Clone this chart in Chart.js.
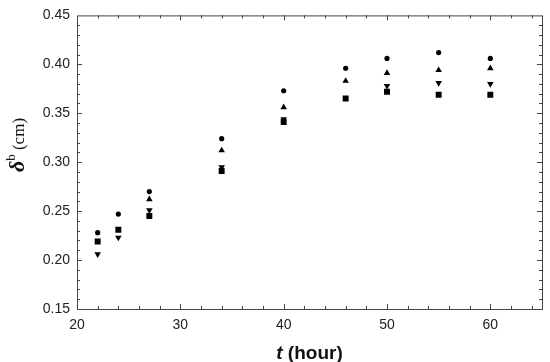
<!DOCTYPE html>
<html>
<head>
<meta charset="utf-8">
<script src="https://cdn.jsdelivr.net/npm/chart.js@4.4.1/dist/chart.umd.min.js"></script>
<style>
  html, body { margin: 0; background: #fff; }
</style>
</head>
<body>
<canvas id="chart" width="550" height="362"></canvas>
<script>
// data
const hours = [22, 24, 27, 34, 40, 46, 50, 55, 60];
const circleVals = [0.228, 0.247, 0.270, 0.324, 0.373, 0.396, 0.406, 0.412, 0.406];
const upVals = [null, null, 0.262, 0.312, 0.356, 0.383, 0.391, 0.394, 0.396];
const downVals = [0.206, 0.223, 0.251, 0.295, 0.344, null, 0.378, 0.381, 0.380];
const squareVals = [0.219, 0.231, 0.245, 0.291, 0.341, 0.365, 0.372, 0.369, 0.369];
const xTicks = [20, 30, 40, 50, 60];
const yTicks = [0.15, 0.20, 0.25, 0.30, 0.35, 0.40, 0.45];

const toPoints = vals => hours.map((h, i) => ({ x: h, y: vals[i] })).filter(p => p.y !== null);

function series(vals, style, radius, rotation) {
  return {
    data: toPoints(vals),
    pointStyle: style,
    pointRadius: radius,
    pointRotation: rotation || 0,
    backgroundColor: '#000',
    borderColor: '#000',
    borderWidth: 0,
    showLine: false
  };
}

// frame with inward ticks on all four sides
const framePlugin = {
  id: 'frame',
  afterDraw(chart) {
    const { ctx, chartArea: a, scales: { x, y } } = chart;
    ctx.save();
    ctx.strokeStyle = '#444';
    ctx.lineWidth = 1;
    ctx.strokeRect(a.left + 0.5, a.top + 0.5, a.right - a.left, a.bottom - a.top);
    ctx.beginPath();
    for (let v = 22; v < 65; v += 2) {
      const px = Math.round(x.getPixelForValue(v)) + 0.5;
      const len = v % 10 === 0 ? 5 : 3;
      ctx.moveTo(px, a.bottom); ctx.lineTo(px, a.bottom - len);
      ctx.moveTo(px, a.top); ctx.lineTo(px, a.top + len);
    }
    for (let k = 16; k < 45; k++) {
      const py = Math.round(y.getPixelForValue(k / 100)) + 0.5;
      const len = k % 5 === 0 ? 5 : 3;
      ctx.moveTo(a.left, py); ctx.lineTo(a.left + len, py);
      ctx.moveTo(a.right, py); ctx.lineTo(a.right - len, py);
    }
    ctx.stroke();
    ctx.restore();
  }
};

// axis titles with mixed fonts
const titlePlugin = {
  id: 'titles',
  afterDraw(chart) {
    const { ctx, chartArea: a } = chart;
    ctx.save();
    ctx.fillStyle = '#111';
    ctx.textBaseline = 'alphabetic';

    // x title: t (hour)
    const xParts = [['t', 'bold italic 19px "Liberation Sans"'], [' (hour)', 'bold 19px "Liberation Sans"']];
    let w = 0;
    xParts.forEach(p => { ctx.font = p[1]; w += ctx.measureText(p[0]).width; });
    let cx = (a.left + a.right) / 2 - w / 2;
    xParts.forEach(p => { ctx.font = p[1]; ctx.fillText(p[0], cx, 359); cx += ctx.measureText(p[0]).width; });

    // y title: δb (cm), rotated
    ctx.translate(24, 145);
    ctx.rotate(-Math.PI / 2);
    const yParts = [
      ['δ', 'bold italic 22px "Liberation Serif"', 0],
      ['b', '13px "Liberation Serif"', -9],
      [' (cm)', '17px "Liberation Serif"', 0]
    ];
    w = 0;
    yParts.forEach(p => { ctx.font = p[1]; w += ctx.measureText(p[0]).width; });
    cx = -w / 2;
    yParts.forEach(p => { ctx.font = p[1]; ctx.fillText(p[0], cx, p[2]); cx += ctx.measureText(p[0]).width; });
    ctx.restore();
  }
};

const ctx = document.getElementById('chart').getContext('2d');
new Chart(ctx, {
  type: 'scatter',
  data: {
    datasets: [
      series(circleVals, 'circle', 2.6),
      series(upVals, 'triangle', 3.8),
      series(downVals, 'triangle', 3.8, 180),
      series(squareVals, 'rect', 4.2)
    ]
  },
  options: {
    responsive: false,
    animation: false,
    layout: { padding: { top: 13, right: 8, left: 0, bottom: 0 } },
    plugins: { legend: { display: false }, tooltip: { enabled: false } },
    scales: {
      x: {
        type: 'linear',
        min: 20,
        max: 65,
        grid: { display: false, drawTicks: false },
        border: { display: false },
        afterBuildTicks: s => { s.ticks = xTicks.map(v => ({ value: v })); },
        afterFit: s => { s.height = 53; },
        ticks: {
          padding: 8,
          color: '#222',
          font: { family: '"Liberation Sans"', size: 14 },
          maxRotation: 0,
          callback: v => String(v)
        }
      },
      y: {
        type: 'linear',
        min: 0.15,
        max: 0.45,
        grid: { display: false, drawTicks: false },
        border: { display: false },
        afterBuildTicks: s => { s.ticks = yTicks.map(v => ({ value: v })); },
        afterFit: s => { s.width = 77; },
        ticks: {
          padding: 7,
          color: '#222',
          font: { family: '"Liberation Sans"', size: 14 },
          callback: v => Number(v).toFixed(2)
        }
      }
    }
  },
  plugins: [framePlugin, titlePlugin]
});
</script>
</body>
</html>
